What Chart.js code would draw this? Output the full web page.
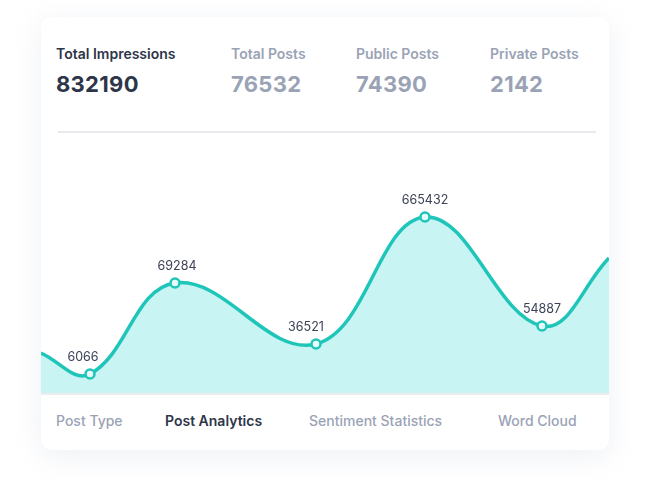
<!DOCTYPE html>
<html>
<head>
<meta charset="utf-8">
<script src="https://cdn.jsdelivr.net/npm/chart.js@4"></script>
<style>
  html, body { margin: 0; padding: 0; background: #fff; width: 648px; height: 487px; overflow: hidden; font-family: Inter, 'Noto Sans', sans-serif; }
  .card { position: absolute; left: 41px; top: 17px; width: 568px; height: 433px; background: #fff; border-radius: 10px;
          box-shadow: 0 6px 28px rgba(150, 160, 190, 0.16); overflow: hidden; }
  .stat { position: absolute; top: 28px; }
  .stat .lbl { font-size: 14px; font-weight: 600; color: #9aa3b5; line-height: 18px; }
  .stat .val { font-size: 22px; font-weight: 700; color: #9aa3b5; line-height: 26px; margin-top: 8px; letter-spacing: 0.3px; }
  .stat.active .lbl { color: #2e3548; }
  .stat.active .val { color: #2e3548; }
  .divider { position: absolute; left: 17px; width: 538px; top: 114px; height: 2px; background: #e9eaee; }
  .wrap { position: absolute; left: 0; top: 116px; width: 568px; height: 260px; }
  .base { position: absolute; left: 0; width: 568px; top: 376px; height: 2px; background: #ececef; }
  .tab { position: absolute; top: 395px; font-size: 14px; font-weight: 500; color: #9aa3b5; line-height: 18px; }
  .tab.active { color: #2e3548; font-weight: 600; }
</style>
</head>
<body>
<div class="card">
  <div id="stats"></div>
  <div class="divider"></div>
  <div class="wrap"><canvas id="chart" width="568" height="260"></canvas></div>
  <div class="base"></div>
  <div id="tabs"></div>
</div>
<script>
const statLabels = ['Total Impressions', 'Total Posts', 'Public Posts', 'Private Posts'];
const statValues = ['832190', '76532', '74390', '2142'];
const tabLabels = ['Post Type', 'Post Analytics', 'Sentiment Statistics', 'Word Cloud'];

// x positions of the samples and their plotted heights (hidden axes)
const xValues = [0, 49, 134, 275, 384, 501, 568];
const yValues = [40, 19, 110, 49, 176, 67, 135];
const pointLabels = ['', '6066', '69284', '36521', '665432', '54887', ''];

const statX = [15, 190, 315, 449];
const tabX = [15, 124, 268, 457];
const labelShift = [0, -7, 2, -10, 0, 0, 0];

const $ = id => document.getElementById(id);

statLabels.forEach((l, i) => {
  const d = document.createElement('div');
  d.className = 'stat' + (i === 0 ? ' active' : '');
  d.style.left = statX[i] + 'px';
  d.innerHTML = '<div class="lbl"></div><div class="val"></div>';
  d.querySelector('.lbl').textContent = l;
  d.querySelector('.val').textContent = statValues[i];
  $('stats').appendChild(d);
});

tabLabels.forEach((l, i) => {
  const d = document.createElement('div');
  d.className = 'tab' + (i === 1 ? ' active' : '');
  d.style.left = tabX[i] + 'px';
  d.textContent = l;
  $('tabs').appendChild(d);
});

const labelPlugin = {
  id: 'pointLabels',
  afterDatasetsDraw(chart) {
    const ctx = chart.ctx;
    const meta = chart.getDatasetMeta(0);
    ctx.save();
    ctx.font = '12.5px Inter, sans-serif';
    ctx.fillStyle = '#3d4356';
    ctx.textAlign = 'center';
    ctx.textBaseline = 'middle';
    meta.data.forEach((p, i) => {
      if (!pointLabels[i]) return;
      ctx.fillText(pointLabels[i], p.x + labelShift[i], p.y - 17);
    });
    ctx.restore();
  }
};

new Chart($('chart').getContext('2d'), {
  type: 'line',
  data: {
    datasets: [{
      data: xValues.map((x, i) => ({ x, y: yValues[i] })),
      borderColor: '#1fc5b9',
      borderWidth: 3.5,
      backgroundColor: '#c8f5f3',
      fill: 'origin',
      tension: 0.4,
      pointRadius: pointLabels.map(l => l ? 4.5 : 0),
      pointBorderWidth: 2.5,
      pointBackgroundColor: '#e6fbfa',
      pointBorderColor: '#1fc5b9'
    }]
  },
  options: {
    responsive: false,
    animation: false,
    layout: { padding: 0 },
    plugins: { legend: { display: false }, tooltip: { enabled: false } },
    scales: {
      x: { type: 'linear', display: false, min: 0, max: 568 },
      y: { display: false, min: 0, max: 260 }
    }
  },
  plugins: [labelPlugin]
});
</script>
</body>
</html>
